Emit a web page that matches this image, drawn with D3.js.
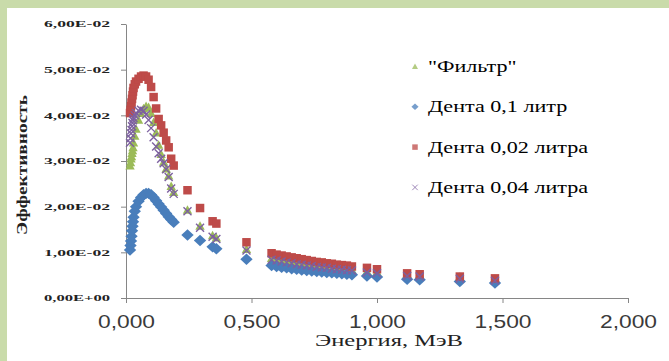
<!DOCTYPE html>
<html>
<head>
<meta charset="utf-8">
<script src="https://cdn.jsdelivr.net/npm/d3@7"></script>
<style>
  body { margin: 0; background: #c9dbaa; }
  svg { display: block; }
</style>
</head>
<body>
<div class="chart"></div>
<script>
// energies, MeV (shared by all series)
var energies = [0.016, 0.018, 0.020, 0.022, 0.024, 0.026, 0.028, 0.030, 0.035, 0.040,
  0.050, 0.060, 0.070, 0.080, 0.090, 0.100, 0.110, 0.120, 0.130, 0.140,
  0.150, 0.160, 0.170, 0.180, 0.190, 0.245, 0.295, 0.345, 0.360, 0.480,
  0.580, 0.600, 0.620, 0.640, 0.660, 0.680, 0.700, 0.720, 0.740, 0.760,
  0.780, 0.800, 0.820, 0.840, 0.860, 0.880, 0.900, 0.960, 1.000, 1.120,
  1.170, 1.330, 1.470];

var filterVals = [0.0290, 0.0297, 0.0305, 0.0310, 0.0317, 0.0323, 0.0330, 0.0340, 0.0355, 0.0370,
  0.0390, 0.0405, 0.0415, 0.0420, 0.0418, 0.0405, 0.0385, 0.0362, 0.0335, 0.0315,
  0.0298, 0.0283, 0.0268, 0.0245, 0.0232, 0.0193, 0.0158, 0.0137, 0.0132, 0.0107,
  0.0087, 0.0085, 0.0083, 0.0081, 0.0079, 0.0077, 0.0076, 0.0074, 0.0072, 0.0071,
  0.0069, 0.0068, 0.0067, 0.0065, 0.0064, 0.0063, 0.0062, 0.0059, 0.0057, 0.0052,
  0.0051, 0.0046, 0.0041];

var denta01 = [0.0105, 0.0115, 0.0125, 0.0135, 0.0147, 0.0157, 0.0167, 0.0177, 0.0190, 0.0200,
  0.0212, 0.0220, 0.0226, 0.0229, 0.0229, 0.0226, 0.0220, 0.0213, 0.0206, 0.0199,
  0.0192, 0.0185, 0.0178, 0.0172, 0.0166, 0.0138, 0.0126, 0.0112, 0.0108, 0.0085,
  0.0071, 0.0069, 0.0067, 0.0066, 0.0064, 0.0063, 0.0061, 0.0060, 0.0059, 0.0058,
  0.0057, 0.0056, 0.0055, 0.0054, 0.0053, 0.0052, 0.0051, 0.0048, 0.0046, 0.0041,
  0.0040, 0.0036, 0.0033];

var denta002 = [0.0405, 0.0412, 0.0420, 0.0428, 0.0436, 0.0444, 0.0452, 0.0460, 0.0468, 0.0474,
  0.0480, 0.0485, 0.0487, 0.0485, 0.0478, 0.0462, 0.0440, 0.0415, 0.0392, 0.0378,
  0.0362, 0.0345, 0.0330, 0.0305, 0.0290, 0.0236, 0.0197, 0.0168, 0.0163, 0.0122,
  0.0098, 0.0095, 0.0093, 0.0091, 0.0089, 0.0087, 0.0085, 0.0083, 0.0081, 0.0079,
  0.0078, 0.0076, 0.0075, 0.0073, 0.0072, 0.0071, 0.0069, 0.0066, 0.0063, 0.0054,
  0.0052, 0.0047, 0.0043];

var denta004 = [0.0340, 0.0350, 0.0360, 0.0368, 0.0376, 0.0383, 0.0389, 0.0394, 0.0400, 0.0405,
  0.0410, 0.0412, 0.0410, 0.0402, 0.0390, 0.0372, 0.0352, 0.0332, 0.0317, 0.0305,
  0.0295, 0.0282, 0.0265, 0.0240, 0.0228, 0.0190, 0.0154, 0.0134, 0.0129, 0.0104,
  0.0084, 0.0082, 0.0080, 0.0078, 0.0076, 0.0074, 0.0073, 0.0071, 0.0070, 0.0068,
  0.0067, 0.0066, 0.0064, 0.0063, 0.0062, 0.0061, 0.0060, 0.0056, 0.0054, 0.0048,
  0.0047, 0.0042, 0.0038];

var seriesNames = ["\"Фильтр\"", "Дента 0,1 литр", "Дента 0,02 литра", "Дента 0,04 литра"];
var seriesValues = [filterVals, denta01, denta002, denta004];

var xTicks = [0, 0.5, 1, 1.5, 2];
var xTickLabels = ["0,000", "0,500", "1,000", "1,500", "2,000"];
var yTicks = [0, 0.01, 0.02, 0.03, 0.04, 0.05, 0.06];
var yTickLabels = ["0,00E+00", "1,00E-02", "2,00E-02", "3,00E-02", "4,00E-02", "5,00E-02", "6,00E-02"];

var svgWidth = 669;
var svgHeight = 361;

var colors = ["#9bbb59", "#4a7ebb", "#be4b48", "#7d60a0"];
var shapes = ["triangle", "diamond", "square", "cross"];

var svg = d3.select(".chart")
  .append("svg")
  .attr("width", svgWidth)
  .attr("height", svgHeight);

// green frame + white panel
svg.append("rect")
  .attr("width", svgWidth).attr("height", svgHeight)
  .attr("fill", "#c9dbaa");
svg.append("rect")
  .attr("x", 7).attr("y", 8)
  .attr("width", svgWidth - 7).attr("height", svgHeight - 8)
  .attr("fill", "#ffffff");

var defs = svg.append("defs");
defs.append("filter").attr("id", "soft")
  .append("feGaussianBlur").attr("stdDeviation", 0.6);

var x = d3.scaleLinear().domain([0, 2]).range([126, 628]);
var y = d3.scaleLinear().domain([0, 0.06]).range([298, 24]);

// axes
var bottomAxis = d3.axisBottom(x)
  .tickValues(xTicks)
  .tickSize(5)
  .tickSizeOuter(0)
  .tickFormat((d, i) => xTickLabels[i]);
var leftAxis = d3.axisLeft(y)
  .tickValues(yTicks)
  .tickSize(5)
  .tickSizeOuter(0)
  .tickFormat((d, i) => yTickLabels[i]);

var gx = svg.append("g")
  .attr("transform", "translate(0,298)")
  .call(bottomAxis);
gx.selectAll("path, line").attr("stroke", "#868686");
gx.selectAll("text")
  .attr("y", 30).attr("dy", 0)
  .attr("fill", "#3a3a3a")
  .style("font-family", "'Liberation Sans', Arial, sans-serif")
  .style("font-size", "19px")
  .attr("textLength", 57)
  .attr("lengthAdjust", "spacingAndGlyphs");

var gy = svg.append("g")
  .attr("transform", "translate(126,0)")
  .call(leftAxis);
gy.selectAll("path, line").attr("stroke", "#868686");
gy.selectAll("text")
  .attr("x", -16)
  .attr("fill", "#222")
  .style("font-family", "'Liberation Serif', 'Times New Roman', serif")
  .style("font-weight", "bold")
  .style("font-size", "9px")
  .attr("textLength", 66)
  .attr("lengthAdjust", "spacingAndGlyphs");

// axis titles
svg.append("text")
  .attr("transform", "translate(27,165) rotate(-90)")
  .attr("text-anchor", "middle")
  .attr("fill", "#222")
  .style("font-family", "'Liberation Serif', 'Times New Roman', serif")
  .style("font-weight", "bold")
  .style("font-size", "14px")
  .attr("textLength", 140)
  .attr("lengthAdjust", "spacingAndGlyphs")
  .text("Эффективность");

svg.append("text")
  .attr("x", 389).attr("y", 346)
  .attr("text-anchor", "middle")
  .attr("fill", "#222")
  .style("font-family", "'Liberation Serif', 'Times New Roman', serif")
  .style("font-size", "17px")
  .attr("textLength", 148)
  .attr("lengthAdjust", "spacingAndGlyphs")
  .text("Энергия, МэВ");

function markerPath(shape, s) {
  var p = d3.path();
  if (shape === "square") {
    p.rect(-s / 2, -s / 2, s, s);
  } else if (shape === "diamond") {
    p.moveTo(0, -s * 0.6); p.lineTo(s * 0.65, 0); p.lineTo(0, s * 0.6); p.lineTo(-s * 0.65, 0); p.closePath();
  } else if (shape === "triangle") {
    p.moveTo(0, -s * 0.55); p.lineTo(s * 0.55, s * 0.45); p.lineTo(-s * 0.55, s * 0.45); p.closePath();
  } else {
    p.moveTo(-s / 2, -s / 2); p.lineTo(s / 2, s / 2);
    p.moveTo(s / 2, -s / 2); p.lineTo(-s / 2, s / 2);
  }
  return p.toString();
}

// points
var marks = svg.append("g").attr("filter", "url(#soft)");
seriesValues.forEach(function(vals, si) {
  var pts = energies.map((e, i) => ({ e: e, v: vals[i] }));
  var shape = shapes[si];
  marks.append("g").selectAll("path")
    .data(pts)
    .enter()
    .append("path")
    .attr("transform", d => `translate(${x(d.e)},${y(d.v)})`)
    .attr("d", markerPath(shape, shape === "cross" ? 8 : (shape === "diamond" ? 9.5 : 8.5)))
    .attr("fill", shape === "cross" ? "none" : colors[si])
    .attr("stroke", shape === "cross" ? colors[si] : "none")
    .attr("stroke-width", 1.4);
});

// legend
var legend = svg.append("g");
seriesNames.forEach(function(name, i) {
  var ly = 66.5 + i * 40.3;
  var shape = shapes[i];
  legend.append("path")
    .attr("transform", `translate(415,${ly})`)
    .attr("d", markerPath(shape, 5.5))
    .attr("fill", shape === "cross" ? "none" : colors[i])
    .attr("stroke", shape === "cross" ? colors[i] : "none")
    .attr("opacity", 0.75)
    .attr("stroke-width", 1);
  var t = legend.append("text")
    .attr("x", 428).attr("y", ly + 5.5)
    .attr("fill", "#000")
    .style("font-family", "'Liberation Serif', 'Times New Roman', serif")
    .style("font-size", "17px")
    .text(name);
  var w = t.node().getComputedTextLength();
  t.attr("textLength", w * 1.3).attr("lengthAdjust", "spacingAndGlyphs");
});
</script>
</body>
</html>
